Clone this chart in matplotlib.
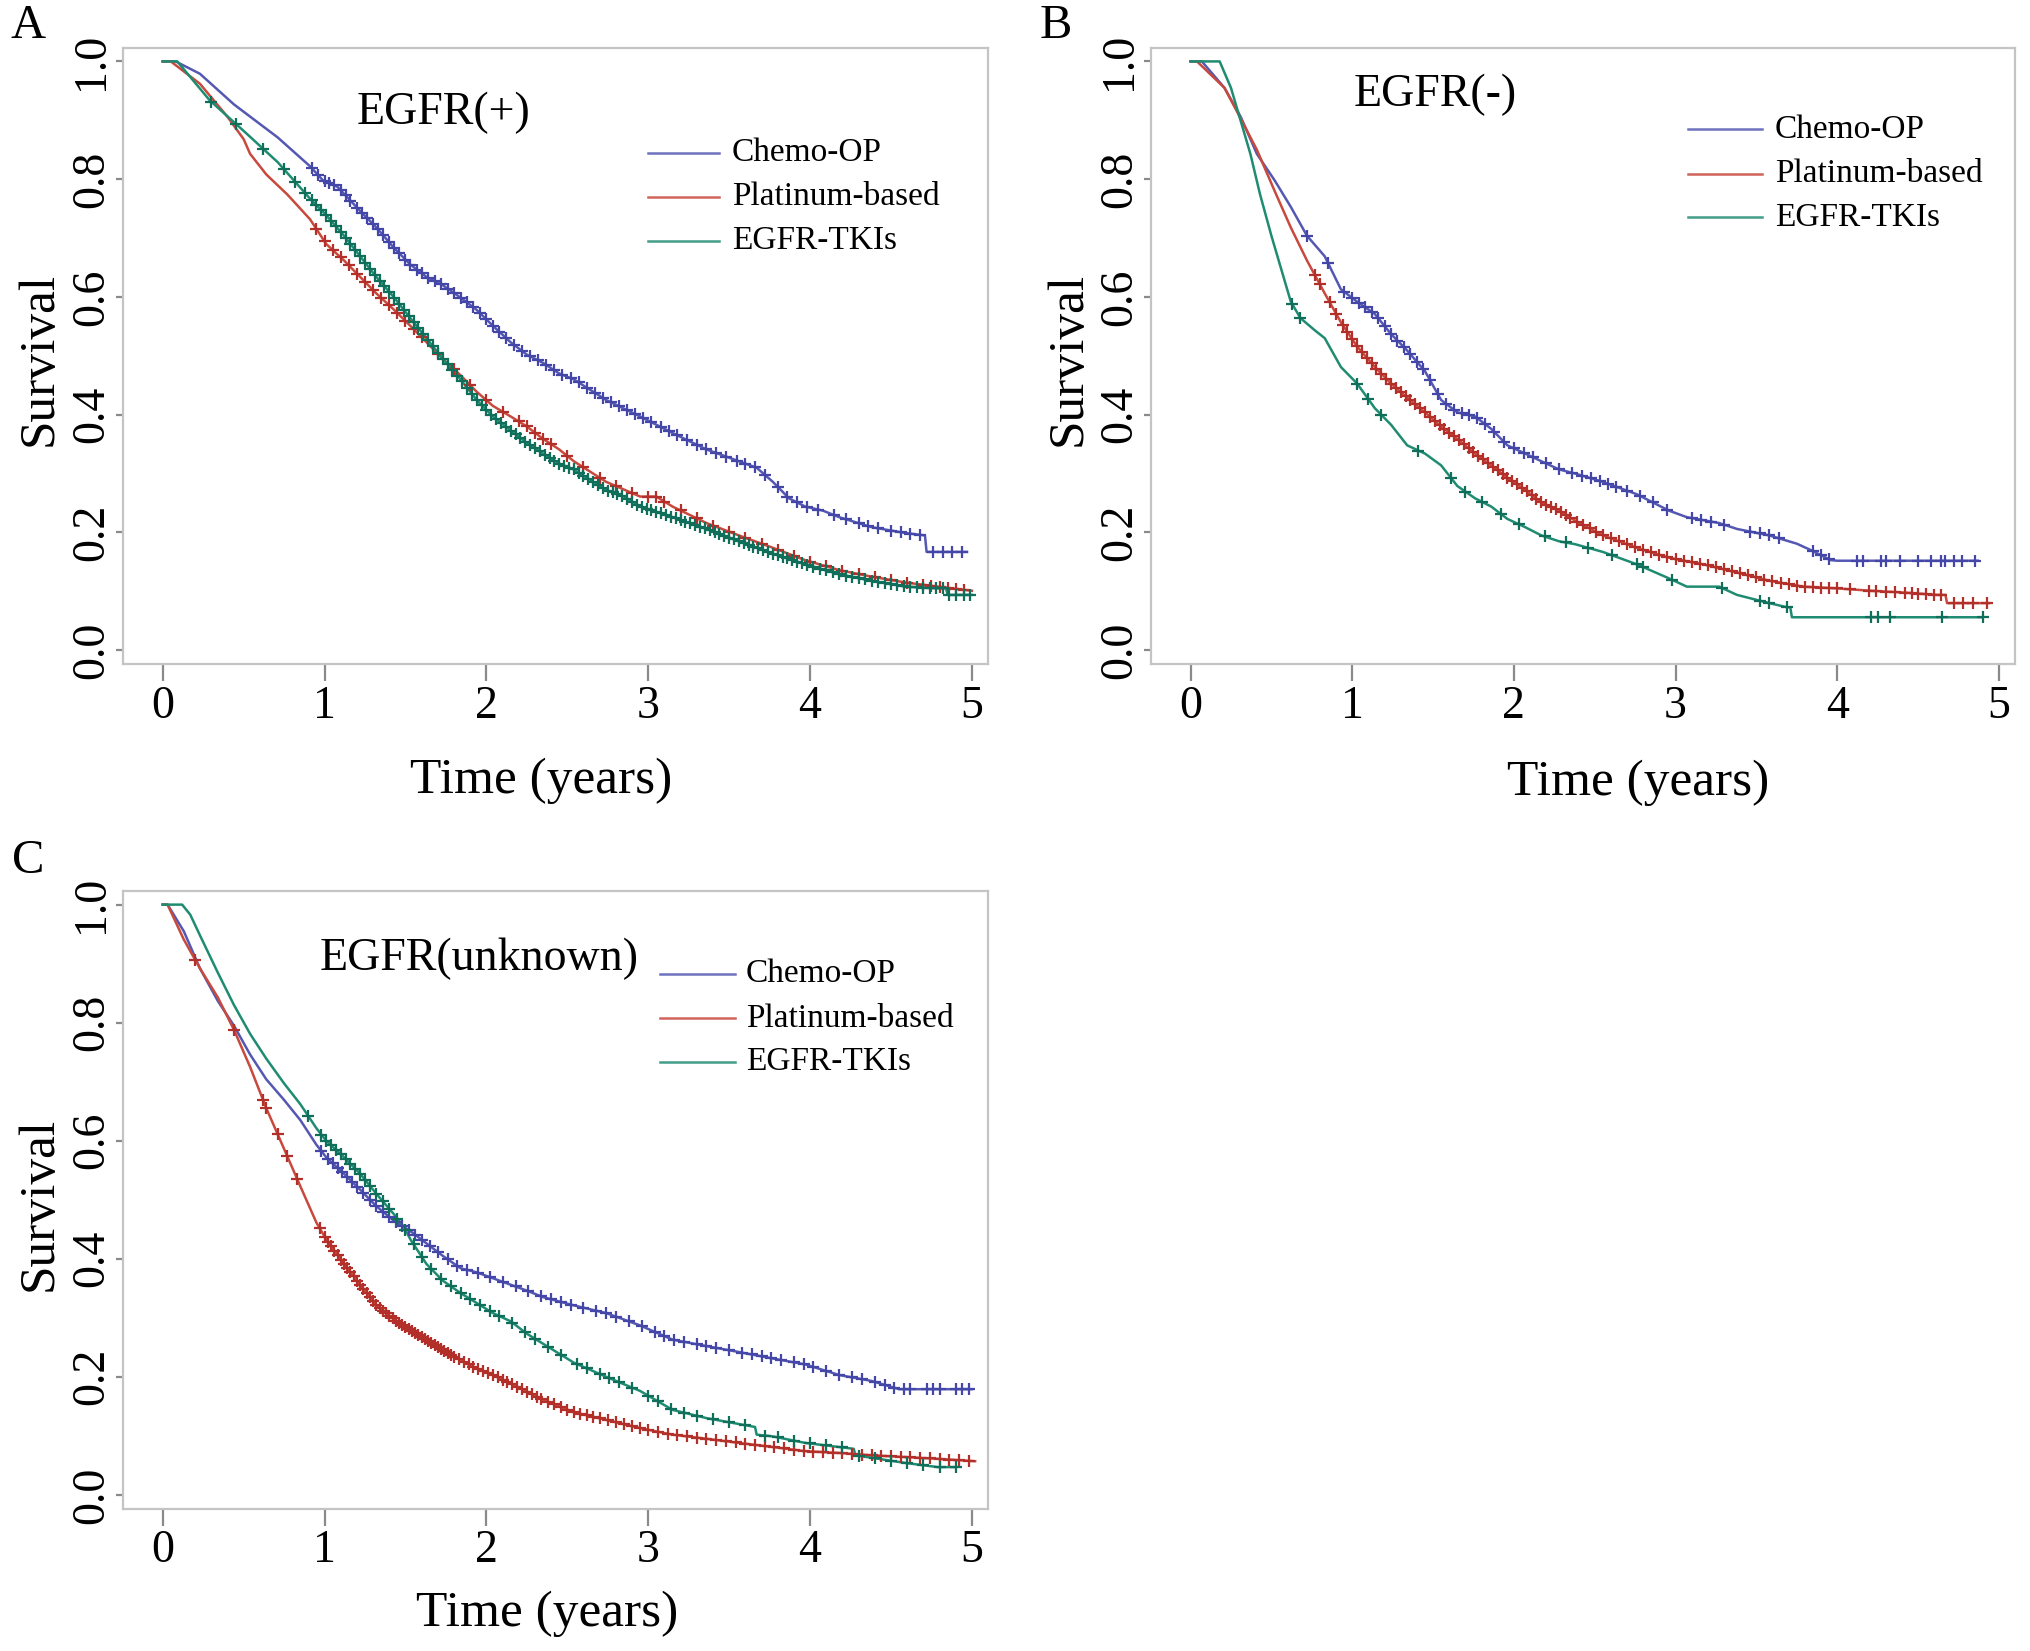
import numpy as np
import matplotlib
matplotlib.use('Agg')
import matplotlib.pyplot as plt

plt.rcParams['font.family'] = ['Liberation Serif', 'DejaVu Serif']

# ---------------- data ----------------
groups = ['Chemo-OP', 'Platinum-based', 'EGFR-TKIs']
x_ticks = [0, 1, 2, 3, 4, 5]
y_ticks = [0.0, 0.2, 0.4, 0.6, 0.8, 1.0]
y_ticklabels = ['0.0', '0.2', '0.4', '0.6', '0.8', '1.0']

# Panel A : EGFR(+)
A_blue_t = [0, 0.08, 0.23, 0.44, 0.71, 0.91, 0.99, 1.08, 1.22, 1.32, 1.43, 1.53, 1.63, 1.73, 1.84, 1.94, 2.04, 2.15, 2.25, 2.35, 2.45, 2.54, 2.74, 2.95, 3.15, 3.36, 3.56, 3.67, 3.77, 3.87, 3.97, 4.08, 4.18, 4.38, 4.59, 4.71, 4.72, 4.97]
A_blue_s = [1.0, 1.0, 0.979, 0.927, 0.871, 0.822, 0.798, 0.787, 0.746, 0.718, 0.683, 0.655, 0.634, 0.620, 0.599, 0.578, 0.551, 0.523, 0.502, 0.488, 0.470, 0.460, 0.425, 0.397, 0.369, 0.341, 0.321, 0.310, 0.286, 0.258, 0.244, 0.237, 0.226, 0.209, 0.199, 0.195, 0.167, 0.167]
A_blue_cens = [0.92, 0.96, 1.0, 1.03, 1.06, 1.1, 1.13, 1.16, 1.2, 1.23, 1.26, 1.3, 1.33, 1.36, 1.4, 1.43, 1.46, 1.5, 1.53, 1.57, 1.6, 1.64, 1.68, 1.72, 1.76, 1.8, 1.84, 1.88, 1.92, 1.96, 2.0, 2.04, 2.08, 2.12, 2.17, 2.22, 2.27, 2.32, 2.37, 2.42, 2.47, 2.52, 2.57, 2.62, 2.67, 2.72, 2.77, 2.82, 2.87, 2.92, 2.97, 3.02, 3.08, 3.13, 3.18, 3.24, 3.3, 3.36, 3.42, 3.48, 3.55, 3.6, 3.66, 3.72, 3.8, 3.86, 3.92, 3.98, 4.05, 4.15, 4.22, 4.3, 4.36, 4.42, 4.5, 4.56, 4.62, 4.68, 4.76, 4.82, 4.88, 4.94]

A_red_t = [0, 0.05, 0.23, 0.40, 0.50, 0.54, 0.64, 0.77, 0.91, 1.01, 1.12, 1.22, 1.32, 1.43, 1.53, 1.63, 1.73, 1.84, 1.94, 2.04, 2.15, 2.25, 2.35, 2.45, 2.54, 2.74, 2.95, 3.05, 3.15, 3.36, 3.56, 3.77, 3.97, 4.18, 4.38, 4.59, 4.79, 5.0]
A_red_s = [1.0, 1.0, 0.962, 0.906, 0.868, 0.843, 0.808, 0.774, 0.732, 0.690, 0.662, 0.634, 0.606, 0.578, 0.551, 0.523, 0.495, 0.467, 0.439, 0.415, 0.397, 0.380, 0.359, 0.341, 0.321, 0.286, 0.261, 0.261, 0.244, 0.216, 0.195, 0.174, 0.153, 0.136, 0.125, 0.115, 0.108, 0.101]
A_red_cens = [0.95, 1.0, 1.05, 1.1, 1.15, 1.2, 1.25, 1.3, 1.35, 1.4, 1.45, 1.5, 1.55, 1.6, 1.7, 1.8, 1.9, 2.0, 2.1, 2.2, 2.25, 2.3, 2.35, 2.4, 2.5, 2.6, 2.7, 2.8, 2.9, 3.0, 3.05, 3.1, 3.2, 3.3, 3.4, 3.5, 3.6, 3.7, 3.8, 3.9, 4.0, 4.1, 4.2, 4.3, 4.4, 4.5, 4.6, 4.7, 4.75, 4.8, 4.85, 4.9, 4.95]

A_green_t = [0, 0.09, 0.29, 0.50, 0.71, 0.91, 1.01, 1.12, 1.22, 1.32, 1.43, 1.53, 1.63, 1.73, 1.84, 1.94, 2.04, 2.15, 2.25, 2.35, 2.45, 2.54, 2.74, 2.85, 2.95, 3.15, 3.36, 3.56, 3.77, 3.97, 4.18, 4.38, 4.59, 4.79, 4.84, 4.85, 5.0]
A_green_s = [1.0, 1.0, 0.934, 0.882, 0.829, 0.767, 0.739, 0.704, 0.669, 0.634, 0.599, 0.564, 0.530, 0.495, 0.460, 0.425, 0.397, 0.373, 0.352, 0.334, 0.317, 0.307, 0.272, 0.261, 0.244, 0.226, 0.206, 0.185, 0.164, 0.146, 0.129, 0.118, 0.108, 0.105, 0.105, 0.094, 0.094]
A_green_cens = [0.30, 0.45, 0.62, 0.75, 0.82, 0.88, 0.92, 0.95, 0.98, 1.01, 1.04, 1.07, 1.1, 1.13, 1.16, 1.19, 1.22, 1.25, 1.28, 1.31, 1.34, 1.37, 1.4, 1.43, 1.46, 1.49, 1.52, 1.55, 1.58, 1.61, 1.64, 1.67, 1.7, 1.73, 1.76, 1.79, 1.82, 1.85, 1.88, 1.91, 1.94, 1.97, 2.0, 2.03, 2.06, 2.09, 2.12, 2.15, 2.18, 2.21, 2.24, 2.27, 2.3, 2.33, 2.36, 2.39, 2.42, 2.45, 2.48, 2.51, 2.54, 2.57, 2.6, 2.63, 2.66, 2.69, 2.72, 2.75, 2.78, 2.81, 2.84, 2.87, 2.9, 2.93, 2.96, 2.99, 3.02, 3.05, 3.08, 3.11, 3.14, 3.17, 3.2, 3.23, 3.26, 3.29, 3.32, 3.35, 3.38, 3.41, 3.44, 3.47, 3.5, 3.53, 3.56, 3.59, 3.62, 3.65, 3.68, 3.71, 3.74, 3.77, 3.8, 3.83, 3.86, 3.89, 3.92, 3.95, 3.98, 4.02, 4.06, 4.1, 4.14, 4.18, 4.22, 4.26, 4.3, 4.34, 4.38, 4.42, 4.46, 4.5, 4.54, 4.58, 4.62, 4.66, 4.7, 4.74, 4.78, 4.82, 4.86, 4.9, 4.95, 4.99]

# Panel B : EGFR(-)
B_blue_t = [0, 0.07, 0.21, 0.31, 0.41, 0.52, 0.62, 0.72, 0.83, 0.93, 1.03, 1.14, 1.24, 1.34, 1.45, 1.55, 1.65, 1.76, 1.86, 1.96, 2.07, 2.17, 2.28, 2.38, 2.55, 2.76, 2.96, 3.07, 3.27, 3.38, 3.58, 3.75, 3.83, 3.96, 4.0, 4.87]
B_blue_s = [1.0, 1.0, 0.955, 0.906, 0.843, 0.798, 0.753, 0.704, 0.669, 0.613, 0.592, 0.571, 0.537, 0.509, 0.474, 0.425, 0.404, 0.397, 0.376, 0.348, 0.334, 0.321, 0.307, 0.300, 0.286, 0.265, 0.237, 0.226, 0.216, 0.206, 0.195, 0.181, 0.171, 0.153, 0.152, 0.152]
B_blue_cens = [0.72, 0.85, 0.95, 1.0, 1.04, 1.08, 1.12, 1.16, 1.2, 1.24, 1.28, 1.32, 1.36, 1.4, 1.44, 1.48, 1.53, 1.58, 1.63, 1.68, 1.72, 1.77, 1.82, 1.88, 1.94, 2.0, 2.06, 2.12, 2.2, 2.28, 2.36, 2.42, 2.48, 2.53, 2.58, 2.63, 2.7, 2.78, 2.86, 2.95, 3.1, 3.16, 3.22, 3.3, 3.46, 3.52, 3.58, 3.64, 3.85, 3.9, 3.95, 4.12, 4.16, 4.27, 4.3, 4.39, 4.5, 4.58, 4.64, 4.67, 4.72, 4.77, 4.85]

B_red_t = [0, 0.04, 0.21, 0.31, 0.41, 0.52, 0.62, 0.72, 0.83, 0.93, 1.03, 1.14, 1.24, 1.34, 1.45, 1.55, 1.65, 1.76, 1.86, 1.96, 2.07, 2.17, 2.28, 2.38, 2.55, 2.76, 2.96, 3.17, 3.38, 3.58, 3.79, 4.0, 4.21, 4.41, 4.62, 4.67, 4.68, 4.94]
B_red_s = [1.0, 1.0, 0.955, 0.903, 0.850, 0.780, 0.718, 0.662, 0.606, 0.557, 0.516, 0.481, 0.453, 0.429, 0.404, 0.380, 0.359, 0.334, 0.314, 0.293, 0.272, 0.251, 0.237, 0.220, 0.195, 0.174, 0.157, 0.146, 0.132, 0.118, 0.108, 0.105, 0.101, 0.098, 0.094, 0.094, 0.080, 0.080]
B_red_cens = [0.77, 0.8, 0.86, 0.9, 0.94, 0.97, 1.0, 1.03, 1.06, 1.09, 1.12, 1.15, 1.18, 1.21, 1.24, 1.27, 1.3, 1.33, 1.36, 1.39, 1.42, 1.45, 1.48, 1.51, 1.54, 1.57, 1.6, 1.63, 1.66, 1.69, 1.72, 1.75, 1.78, 1.81, 1.84, 1.87, 1.9, 1.93, 1.96, 1.99, 2.02, 2.05, 2.08, 2.11, 2.14, 2.17, 2.2, 2.23, 2.26, 2.29, 2.32, 2.35, 2.39, 2.43, 2.47, 2.51, 2.55, 2.6, 2.65, 2.7, 2.75, 2.8, 2.85, 2.9, 2.95, 3.0, 3.05, 3.1, 3.15, 3.2, 3.25, 3.3, 3.35, 3.4, 3.45, 3.5, 3.55, 3.6, 3.65, 3.7, 3.75, 3.8, 3.85, 3.9, 3.95, 4.0, 4.08, 4.2, 4.24, 4.3, 4.36, 4.42, 4.46, 4.5, 4.55, 4.6, 4.64, 4.72, 4.78, 4.84, 4.93]

B_green_t = [0, 0.18, 0.25, 0.31, 0.37, 0.43, 0.50, 0.56, 0.62, 0.68, 0.77, 0.83, 0.93, 1.03, 1.14, 1.24, 1.34, 1.45, 1.55, 1.65, 1.76, 1.86, 1.96, 2.07, 2.17, 2.28, 2.38, 2.55, 2.76, 2.96, 3.07, 3.27, 3.38, 3.58, 3.69, 3.71, 3.72, 4.9]
B_green_s = [1.0, 1.0, 0.955, 0.899, 0.843, 0.774, 0.704, 0.648, 0.592, 0.564, 0.543, 0.530, 0.481, 0.453, 0.411, 0.383, 0.348, 0.334, 0.314, 0.279, 0.258, 0.244, 0.223, 0.209, 0.195, 0.185, 0.180, 0.167, 0.146, 0.122, 0.108, 0.108, 0.094, 0.080, 0.073, 0.073, 0.056, 0.056]
B_green_cens = [0.63, 0.68, 1.03, 1.1, 1.18, 1.41, 1.61, 1.7, 1.8, 1.92, 2.03, 2.19, 2.32, 2.46, 2.61, 2.76, 2.8, 2.98, 3.29, 3.52, 3.58, 3.69, 4.21, 4.25, 4.33, 4.65, 4.9]

# Panel C : EGFR(unknown)
C_blue_t = [0, 0.03, 0.13, 0.23, 0.34, 0.44, 0.54, 0.64, 0.75, 0.85, 0.95, 1.01, 1.12, 1.22, 1.32, 1.43, 1.53, 1.63, 1.73, 1.84, 1.94, 2.04, 2.15, 2.25, 2.35, 2.54, 2.74, 2.95, 3.15, 3.36, 3.56, 3.77, 3.97, 4.18, 4.38, 4.55, 5.0]
C_blue_s = [1.0, 1.0, 0.955, 0.892, 0.837, 0.795, 0.746, 0.704, 0.669, 0.635, 0.593, 0.572, 0.544, 0.517, 0.489, 0.464, 0.447, 0.426, 0.405, 0.384, 0.377, 0.367, 0.356, 0.346, 0.335, 0.321, 0.308, 0.287, 0.263, 0.252, 0.242, 0.231, 0.221, 0.203, 0.193, 0.179, 0.179]
C_blue_cens = [0.98, 1.02, 1.05, 1.08, 1.11, 1.14, 1.17, 1.2, 1.24, 1.28, 1.32, 1.36, 1.4, 1.44, 1.48, 1.52, 1.56, 1.6, 1.65, 1.7, 1.76, 1.82, 1.88, 1.95, 2.02, 2.1, 2.18, 2.26, 2.34, 2.4, 2.46, 2.52, 2.6, 2.68, 2.74, 2.8, 2.88, 2.96, 3.04, 3.1, 3.16, 3.22, 3.3, 3.36, 3.42, 3.5, 3.58, 3.64, 3.7, 3.76, 3.82, 3.9, 3.96, 4.02, 4.1, 4.18, 4.26, 4.32, 4.4, 4.46, 4.52, 4.58, 4.62, 4.72, 4.76, 4.8, 4.9, 4.94, 4.98]

C_red_t = [0, 0.03, 0.13, 0.23, 0.34, 0.44, 0.54, 0.64, 0.75, 0.85, 0.95, 1.01, 1.12, 1.22, 1.32, 1.43, 1.53, 1.63, 1.73, 1.84, 1.94, 2.04, 2.15, 2.25, 2.35, 2.54, 2.74, 2.95, 3.15, 3.36, 3.56, 3.77, 3.97, 4.18, 4.38, 4.59, 4.79, 5.02]
C_red_s = [1.0, 1.0, 0.941, 0.892, 0.843, 0.788, 0.725, 0.655, 0.586, 0.523, 0.461, 0.433, 0.391, 0.356, 0.321, 0.297, 0.280, 0.262, 0.245, 0.228, 0.214, 0.203, 0.189, 0.175, 0.161, 0.140, 0.127, 0.113, 0.102, 0.095, 0.088, 0.081, 0.074, 0.071, 0.067, 0.064, 0.061, 0.057]
C_red_cens = [0.2, 0.44, 0.62, 0.64, 0.71, 0.77, 0.83, 0.97, 1.0, 1.02, 1.04, 1.06, 1.08, 1.1, 1.12, 1.14, 1.16, 1.18, 1.2, 1.22, 1.24, 1.26, 1.28, 1.3, 1.32, 1.34, 1.36, 1.38, 1.4, 1.42, 1.44, 1.46, 1.48, 1.5, 1.52, 1.54, 1.56, 1.58, 1.6, 1.62, 1.64, 1.66, 1.68, 1.7, 1.72, 1.74, 1.76, 1.78, 1.8, 1.83, 1.86, 1.89, 1.92, 1.95, 1.98, 2.01, 2.04, 2.07, 2.1, 2.13, 2.16, 2.19, 2.22, 2.25, 2.28, 2.31, 2.34, 2.38, 2.42, 2.46, 2.5, 2.54, 2.58, 2.62, 2.66, 2.7, 2.75, 2.8, 2.85, 2.9, 2.95, 3.0, 3.06, 3.12, 3.18, 3.24, 3.3, 3.36, 3.42, 3.48, 3.54, 3.6, 3.66, 3.72, 3.78, 3.84, 3.9, 3.96, 4.02, 4.08, 4.14, 4.2, 4.26, 4.32, 4.38, 4.44, 4.5, 4.56, 4.62, 4.68, 4.74, 4.8, 4.86, 4.92, 4.98]

C_green_t = [0, 0.12, 0.17, 0.23, 0.34, 0.44, 0.54, 0.64, 0.75, 0.85, 0.95, 1.01, 1.12, 1.22, 1.32, 1.43, 1.49, 1.53, 1.63, 1.73, 1.84, 1.94, 2.04, 2.15, 2.25, 2.35, 2.54, 2.74, 2.95, 3.15, 3.36, 3.56, 3.66, 3.67, 3.77, 3.97, 4.18, 4.27, 4.28, 4.59, 4.79, 4.9]
C_green_s = [1.0, 1.0, 0.983, 0.948, 0.885, 0.830, 0.781, 0.739, 0.697, 0.662, 0.621, 0.600, 0.572, 0.544, 0.510, 0.475, 0.454, 0.433, 0.391, 0.363, 0.342, 0.325, 0.308, 0.294, 0.273, 0.256, 0.224, 0.200, 0.176, 0.144, 0.130, 0.120, 0.115, 0.102, 0.099, 0.088, 0.081, 0.078, 0.067, 0.054, 0.047, 0.047]
C_green_cens = [0.9, 0.98, 1.01, 1.04, 1.07, 1.1, 1.13, 1.16, 1.19, 1.22, 1.25, 1.28, 1.32, 1.36, 1.4, 1.45, 1.5, 1.55, 1.6, 1.66, 1.72, 1.78, 1.84, 1.9, 1.96, 2.02, 2.08, 2.16, 2.24, 2.3, 2.38, 2.46, 2.56, 2.62, 2.7, 2.76, 2.82, 2.9, 3.0, 3.06, 3.14, 3.22, 3.3, 3.4, 3.5, 3.6, 3.72, 3.8, 3.9, 4.0, 4.1, 4.2, 4.3, 4.4, 4.5, 4.6, 4.7, 4.8, 4.9]

# ---------------- styling ----------------
line_colors = ['#5558b2', '#c8493d', '#1f8c72']
mark_colors = ['#4447a8', '#b3302a', '#0f6f5a']

panels = [
    dict(letter='A', title='EGFR(+)', rect=[0.0606, 0.5976, 0.4259, 0.3734],
         curves=[(A_blue_t, A_blue_s, A_blue_cens), (A_red_t, A_red_s, A_red_cens), (A_green_t, A_green_s, A_green_cens)],
         title_xy=(0.371, 0.895), leg_x=(0.607, 0.689, 0.704), leg_y=(0.8295, 0.758, 0.687),
         xlab=(0.483, -0.189), ylab=(-0.097, 0.495), letter_xy=(0.014, 0.984)),
    dict(letter='B', title='EGFR(-)', rect=[0.5667, 0.5976, 0.4254, 0.3734],
         curves=[(B_blue_t, B_blue_s, B_blue_cens), (B_red_t, B_red_s, B_red_cens), (B_green_t, B_green_s, B_green_cens)],
         title_xy=(0.329, 0.924), leg_x=(0.622, 0.707, 0.722), leg_y=(0.868, 0.796, 0.725),
         xlab=(0.564, -0.192), ylab=(-0.0955, 0.495), letter_xy=(0.5197, 0.984)),
    dict(letter='C', title='EGFR(unknown)', rect=[0.0606, 0.0860, 0.4259, 0.3743],
         curves=[(C_blue_t, C_blue_s, C_blue_cens), (C_red_t, C_red_s, C_red_cens), (C_green_t, C_green_s, C_green_cens)],
         title_xy=(0.412, 0.891), leg_x=(0.621, 0.707, 0.720), leg_y=(0.866, 0.794, 0.723),
         xlab=(0.49, -0.170), ylab=(-0.097, 0.494), letter_xy=(0.014, 0.4785)),
]

fig = plt.figure(figsize=(20.31, 16.51), dpi=100)

for p in panels:
    ax = fig.add_axes(p['rect'])
    for (t, s, cens), lc, mc in zip(p['curves'], line_colors, mark_colors):
        ax.plot(t, s, color=lc, lw=1.8, zorder=2)
        cy = np.interp(cens, t, s)
        ax.plot(cens, cy, ls='none', marker='+', ms=8.5, mew=1.6, color=mc, zorder=3)
    ax.set_xlim(-0.245, 5.10)
    ax.set_ylim(-0.024, 1.023)
    ax.set_xticks(x_ticks)
    ax.set_xticklabels([str(v) for v in x_ticks])
    ax.set_yticks(y_ticks)
    ax.set_yticklabels(y_ticklabels)
    for sp in ax.spines.values():
        sp.set_color('#c4c4c4')
        sp.set_linewidth(1.6)
    ax.tick_params(axis='x', length=12, width=1.6, color='#8a8a8a', labelsize=33, pad=3)
    ax.tick_params(axis='y', length=5, width=1.6, color='#8a8a8a', labelsize=33, pad=2,
                   labelrotation=90)
    for lab in ax.get_yticklabels():
        lab.set_va('center')
    ax.set_xlabel('Time (years)', fontsize=37)
    ax.set_ylabel('Survival', fontsize=37)
    ax.xaxis.set_label_coords(*p['xlab'])
    ax.yaxis.set_label_coords(*p['ylab'])
    ax.xaxis.label.set_va('center')
    ax.yaxis.label.set_va('center')
    ax.text(p['title_xy'][0], p['title_xy'][1], p['title'], transform=ax.transAxes,
            fontsize=33, ha='center', va='center')
    x0, x1, xt = p['leg_x']
    for name, lc, yy in zip(groups, line_colors, p['leg_y']):
        ax.plot([x0, x1], [yy, yy], color=lc, lw=1.8, transform=ax.transAxes, alpha=0.85)
        ax.text(xt, yy, name, transform=ax.transAxes, fontsize=24, ha='left', va='center')
    fig.text(p['letter_xy'][0], p['letter_xy'][1], p['letter'], fontsize=35,
             ha='center', va='center')

fig.savefig('out.png', dpi=100, facecolor='white')
